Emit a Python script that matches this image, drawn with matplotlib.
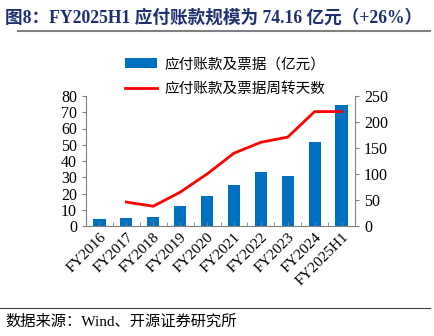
import matplotlib
matplotlib.use('Agg')
import matplotlib.pyplot as plt
import numpy as np

plt.rcParams['font.family'] = ['Liberation Serif', 'Noto Sans CJK SC']

years = ['FY2016', 'FY2017', 'FY2018', 'FY2019', 'FY2020', 'FY2021',
         'FY2022', 'FY2023', 'FY2024', 'FY2025H1']
payables = [4.5, 5.2, 5.3, 12.3, 18.5, 25.0, 33.0, 31.0, 52.0, 74.2]
turnover_days = [None, 46, 38, 65, 100, 140, 161, 171, 220, 220]

fig = plt.figure(figsize=(4.34, 3.36), dpi=100)
ax = fig.add_axes([86 / 434, 1 - 226 / 336, (355 - 86) / 434, (226 - 96) / 336])
x = np.arange(len(years))
bars = ax.bar(x, payables, width=0.45, color='#0070C0')
ax.set_ylim(0, 80)
ax.set_yticks(range(0, 81, 10))
ax.set_xlim(-0.5, len(years) - 0.5)
ax.set_xticks(x)
ax.set_xticklabels(years, rotation=45, ha='right', rotation_mode='anchor')
ax.set_xticks(np.arange(-0.5, len(years), 0.5), minor=True)
ax.tick_params(axis='x', which='both', direction='in', length=3, color='#808080')
ax.tick_params(axis='y', direction='out', length=3, color='#808080', labelsize=11.5)
ax.tick_params(axis='x', labelsize=11)
for s in ['top', 'right']:
    ax.spines[s].set_visible(False)
for s in ['left', 'bottom']:
    ax.spines[s].set_color('#808080')

ax2 = ax.twinx()
lx = [i for i, v in enumerate(turnover_days) if v is not None]
ly = [v for v in turnover_days if v is not None]
line, = ax2.plot(lx, ly, color='#FF0000', lw=2)
ax2.set_ylim(0, 250)
ax2.set_yticks(range(0, 251, 50))
ax2.tick_params(axis='y', direction='out', length=3, color='#808080', labelsize=11.5)
for s in ['top', 'left', 'bottom']:
    ax2.spines[s].set_visible(False)
ax2.spines['right'].set_color('#808080')

fig.legend([bars, line], ['应付账款及票据（亿元）', '应付账款及票据周转天数'],
           loc='upper left', bbox_to_anchor=(112 / 434, 1 - 44 / 336),
           frameon=False, handlelength=2.2, labelspacing=0.75, handletextpad=0.5,
           prop={'family': ['Noto Sans CJK SC'], 'size': 10.5})

fig.text(5 / 434, 1 - 18 / 336, '图8：FY2025H1 应付账款规模为 74.16 亿元（+26%）',
         fontsize=12.7, fontweight='bold', color='#1F3070', va='center',
         family=['Liberation Serif', 'Noto Sans CJK SC'])
fig.add_artist(plt.Line2D([18 / 434, 430 / 434], [1 - 31 / 336, 1 - 31 / 336],
                          color='#808080', lw=1.5))
fig.add_artist(plt.Line2D([0, 430 / 434], [1 - 308 / 336, 1 - 308 / 336],
                          color='#404040', lw=0.8))
fig.text(5 / 434, 1 - 322 / 336, '数据来源：Wind、开源证券研究所', fontsize=11,
         va='center', family=['Liberation Serif', 'Noto Sans CJK SC'])

fig.savefig('out.png', dpi=100, facecolor='white')
